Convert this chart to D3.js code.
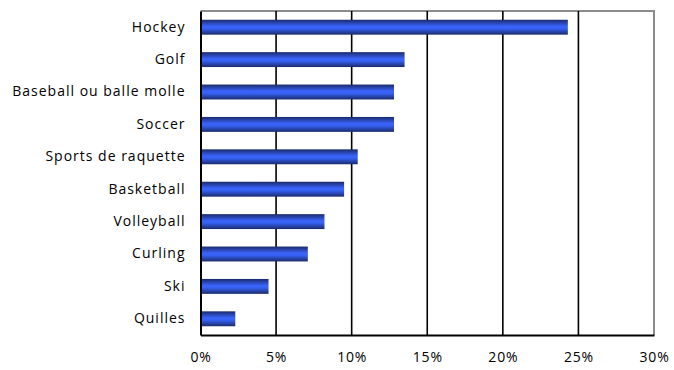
<!DOCTYPE html>
<html>
<head>
<meta charset="utf-8">
<script src="https://cdnjs.cloudflare.com/ajax/libs/d3/7.8.5/d3.min.js"></script>
<style>
  body { margin: 0; background: #fff; }
  text { font-family: "Open Sans", Lato, sans-serif; fill: #000; }
</style>
</head>
<body>
<svg id="chart"></svg>
<script>
// chart data
var sports = ['Hockey', 'Golf', 'Baseball ou balle molle', 'Soccer', 'Sports de raquette ',
	'Basketball', 'Volleyball', 'Curling', 'Ski', 'Quilles'];
var shares = [24.3, 13.5, 12.8, 12.8, 10.4, 9.5, 8.2, 7.1, 4.5, 2.3];
var tickValues = [0, 5, 10, 15, 20, 25, 30];

var width = 674,
	height = 370,
	margin = {top: 11, right: 20, bottom: 35, left: 200.5};

var svg = d3.select('#chart')
	.attr('width', width)
	.attr('height', height);

var x = d3.scaleLinear()
	.domain([0, 30])
	.range([margin.left, width - margin.right]);

var y = d3.scaleBand()
	.domain(sports)
	.range([margin.top, height - margin.bottom])
	.paddingInner(0.54)
	.paddingOuter(0.27);

// bar gradient: dark edges, bright middle
var grad = svg.append('defs').append('linearGradient')
	.attr('id', 'barGrad')
	.attr('x1', 0).attr('y1', 0)
	.attr('x2', 0).attr('y2', 1);
grad.append('stop').attr('offset', '0%').attr('stop-color', '#1a2a6c');
grad.append('stop').attr('offset', '45%').attr('stop-color', '#3a64fc');
grad.append('stop').attr('offset', '60%').attr('stop-color', '#3560f0');
grad.append('stop').attr('offset', '100%').attr('stop-color', '#1a2a6c');

// top and right border
svg.append('path')
	.attr('d', 'M' + x(0) + ',' + margin.top + 'H' + x(30) + 'V' + (height - margin.bottom))
	.attr('fill', 'none')
	.attr('stroke', '#8c8c8c')
	.attr('stroke-width', 2);

// vertical gridlines
svg.selectAll('.grid')
	.data(tickValues.slice(1, -1))
	.enter().append('line')
		.attr('class', 'grid')
		.attr('x1', function(d) { return x(d); })
		.attr('x2', function(d) { return x(d); })
		.attr('y1', margin.top)
		.attr('y2', height - margin.bottom)
		.attr('stroke', '#000')
		.attr('stroke-width', 1.6);

// bars
svg.selectAll('.bar')
	.data(shares)
	.enter().append('rect')
		.attr('class', 'bar')
		.attr('x', x(0))
		.attr('y', function(d, i) { return y(sports[i]); })
		.attr('width', function(d) { return x(d) - x(0); })
		.attr('height', y.bandwidth())
		.attr('fill', 'url(#barGrad)');

// x axis
var xAxis = d3.axisBottom(x)
	.tickValues(tickValues)
	.tickSize(0)
	.tickPadding(17)
	.tickFormat(function(d) { return d + '%'; });

var gx = svg.append('g')
	.attr('transform', 'translate(0,' + (height - margin.bottom) + ')')
	.call(xAxis);
gx.select('.domain').attr('stroke', '#000').attr('stroke-width', 2);
gx.selectAll('text')
	.style('font-size', '14px')
	.style('letter-spacing', '0.8px')
	.attr('fill', '#111');

// y axis
var yAxis = d3.axisLeft(y)
	.tickSize(0)
	.tickPadding(15);

var gy = svg.append('g')
	.attr('transform', 'translate(' + x(0) + ',0)')
	.call(yAxis);
gy.select('.domain').attr('stroke', '#000').attr('stroke-width', 2);
gy.selectAll('text')
	.style('font-size', '14px')
	.style('letter-spacing', '1px')
	.attr('fill', '#111');
</script>
</body>
</html>
